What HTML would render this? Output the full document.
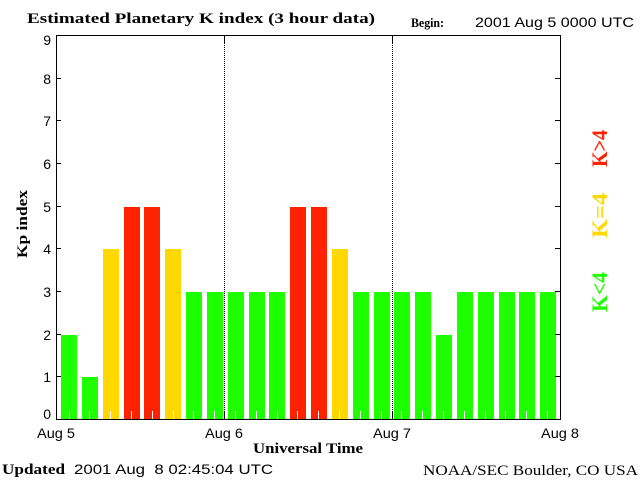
<!DOCTYPE html>
<html>
<head>
<meta charset="utf-8">
<style>
  html, body { margin: 0; padding: 0; background: #ffffff; }
  svg { display: block; }
  .serifb { font-family: "Liberation Serif", serif; font-weight: bold; }
  .serif { font-family: "Liberation Serif", serif; }
  .sans { font-family: "Liberation Sans", sans-serif; }
</style>
</head>
<body>
<svg xmlns="http://www.w3.org/2000/svg" width="640" height="480" viewBox="0 0 640 480">
  <rect x="0" y="0" width="640" height="480" fill="#ffffff"/>

  <!-- Title -->
  <text class="serifb" x="27" y="23" font-size="15" fill="#000" textLength="348" lengthAdjust="spacingAndGlyphs">Estimated Planetary K index (3 hour data)</text>
  <text class="serifb" x="411" y="27" font-size="13" fill="#000" textLength="33" lengthAdjust="spacingAndGlyphs">Begin:</text>
  <text class="sans" x="475" y="27" font-size="14" fill="#000" textLength="159" lengthAdjust="spacingAndGlyphs">2001 Aug 5 0000 UTC</text>

  <!-- Bars -->
  <g shape-rendering="crispEdges">
    <rect x="61"  y="335" width="16" height="84" fill="#1eff00"/>
    <rect x="82"  y="377" width="16" height="42" fill="#1eff00"/>
    <rect x="103" y="249" width="16" height="170" fill="#ffd800"/>
    <rect x="124" y="207" width="16" height="212" fill="#ff2200"/>
    <rect x="144" y="207" width="16" height="212" fill="#ff2200"/>
    <rect x="165" y="249" width="16" height="170" fill="#ffd800"/>
    <rect x="186" y="292" width="16" height="127" fill="#1eff00"/>
    <rect x="207" y="292" width="16" height="127" fill="#1eff00"/>
    <rect x="228" y="292" width="16" height="127" fill="#1eff00"/>
    <rect x="249" y="292" width="16" height="127" fill="#1eff00"/>
    <rect x="269" y="292" width="16" height="127" fill="#1eff00"/>
    <rect x="290" y="207" width="16" height="212" fill="#ff2200"/>
    <rect x="311" y="207" width="16" height="212" fill="#ff2200"/>
    <rect x="332" y="249" width="16" height="170" fill="#ffd800"/>
    <rect x="353" y="292" width="16" height="127" fill="#1eff00"/>
    <rect x="374" y="292" width="16" height="127" fill="#1eff00"/>
    <rect x="394" y="292" width="16" height="127" fill="#1eff00"/>
    <rect x="415" y="292" width="16" height="127" fill="#1eff00"/>
    <rect x="436" y="335" width="16" height="84" fill="#1eff00"/>
    <rect x="457" y="292" width="16" height="127" fill="#1eff00"/>
    <rect x="478" y="292" width="16" height="127" fill="#1eff00"/>
    <rect x="499" y="292" width="16" height="127" fill="#1eff00"/>
    <rect x="519" y="292" width="16" height="127" fill="#1eff00"/>
    <rect x="540" y="292" width="16" height="127" fill="#1eff00"/>
  </g>

  <!-- White minor ticks inside bars -->
  <g fill="#ffffff" shape-rendering="crispEdges">
    <rect x="69"  y="411" width="1" height="8"/>
    <rect x="89"  y="411" width="1" height="8"/>
    <rect x="110" y="411" width="1" height="8"/>
    <rect x="131" y="411" width="1" height="8"/>
    <rect x="152" y="411" width="1" height="8"/>
    <rect x="173" y="411" width="1" height="8"/>
    <rect x="193" y="411" width="1" height="8"/>
    <rect x="214" y="411" width="1" height="8"/>
    <rect x="235" y="411" width="1" height="8"/>
    <rect x="256" y="411" width="1" height="8"/>
    <rect x="277" y="411" width="1" height="8"/>
    <rect x="297" y="411" width="1" height="8"/>
    <rect x="318" y="411" width="1" height="8"/>
    <rect x="339" y="411" width="1" height="8"/>
    <rect x="360" y="411" width="1" height="8"/>
    <rect x="381" y="411" width="1" height="8"/>
    <rect x="401" y="411" width="1" height="8"/>
    <rect x="422" y="411" width="1" height="8"/>
    <rect x="443" y="411" width="1" height="8"/>
    <rect x="464" y="411" width="1" height="8"/>
    <rect x="485" y="411" width="1" height="8"/>
    <rect x="505" y="411" width="1" height="8"/>
    <rect x="526" y="411" width="1" height="8"/>
    <rect x="547" y="411" width="1" height="8"/>
  </g>

  <!-- Frame -->
  <g shape-rendering="crispEdges" fill="#000">
    <rect x="56" y="35" width="505" height="1"/>
    <rect x="56" y="419" width="505" height="1"/>
    <rect x="56" y="35" width="1" height="385"/>
    <rect x="560" y="35" width="1" height="385"/>

    <rect x="224" y="35" width="1" height="8"/>
    <rect x="224" y="411" width="1" height="8"/>
    <rect x="392" y="35" width="1" height="8"/>
    <rect x="392" y="411" width="1" height="8"/>

    <rect x="56" y="376" width="5" height="1"/>
    <rect x="56" y="334" width="5" height="1"/>
    <rect x="56" y="291" width="5" height="1"/>
    <rect x="56" y="248" width="5" height="1"/>
    <rect x="56" y="206" width="5" height="1"/>
    <rect x="56" y="163" width="5" height="1"/>
    <rect x="56" y="120" width="5" height="1"/>
    <rect x="56" y="78" width="5" height="1"/>
    <rect x="555" y="376" width="5" height="1"/>
    <rect x="555" y="334" width="5" height="1"/>
    <rect x="555" y="291" width="5" height="1"/>
    <rect x="555" y="248" width="5" height="1"/>
    <rect x="555" y="206" width="5" height="1"/>
    <rect x="555" y="163" width="5" height="1"/>
    <rect x="555" y="120" width="5" height="1"/>
    <rect x="555" y="78" width="5" height="1"/>
  </g>

  <!-- Dotted day dividers -->
  <line x1="224.5" y1="43" x2="224.5" y2="411" stroke="#000" stroke-width="1" stroke-dasharray="1,1" shape-rendering="crispEdges"/>
  <line x1="392.5" y1="43" x2="392.5" y2="411" stroke="#000" stroke-width="1" stroke-dasharray="1,1" shape-rendering="crispEdges"/>

  <!-- Y tick labels -->
  <g class="sans" font-size="14" fill="#000" text-anchor="end">
    <text x="51" y="45">9</text>
    <text x="51" y="84">8</text>
    <text x="51" y="126">7</text>
    <text x="51" y="169">6</text>
    <text x="51" y="212">5</text>
    <text x="51" y="254">4</text>
    <text x="51" y="297">3</text>
    <text x="51" y="340">2</text>
    <text x="51" y="382">1</text>
    <text x="51" y="419">0</text>
  </g>

  <!-- X tick labels -->
  <g class="sans" font-size="14" fill="#000" text-anchor="middle">
    <text x="56" y="438" textLength="38" lengthAdjust="spacingAndGlyphs">Aug 5</text>
    <text x="224" y="438" textLength="38" lengthAdjust="spacingAndGlyphs">Aug 6</text>
    <text x="392" y="438" textLength="38" lengthAdjust="spacingAndGlyphs">Aug 7</text>
    <text x="560" y="438" textLength="38" lengthAdjust="spacingAndGlyphs">Aug 8</text>
  </g>

  <!-- Axis titles -->
  <text class="serifb" x="253" y="453" font-size="15" fill="#000" textLength="110" lengthAdjust="spacingAndGlyphs">Universal Time</text>
  <text class="serifb" transform="translate(27,258) rotate(-90)" font-size="15" fill="#000" textLength="68" lengthAdjust="spacingAndGlyphs">Kp index</text>

  <!-- Legend -->
  <text class="serifb" transform="translate(607,167) rotate(-90)" font-size="22" fill="#ff2200" textLength="37" lengthAdjust="spacingAndGlyphs">K&gt;4</text>
  <text class="serifb" transform="translate(607,238) rotate(-90)" font-size="22" fill="#ffd800" textLength="45" lengthAdjust="spacingAndGlyphs">K=4</text>
  <text class="serifb" transform="translate(607,312) rotate(-90)" font-size="22" fill="#1eff00" textLength="40" lengthAdjust="spacingAndGlyphs">K&lt;4</text>

  <!-- Footer -->
  <text class="serifb" x="2" y="474" font-size="15" fill="#000" textLength="63" lengthAdjust="spacingAndGlyphs">Updated</text>
  <text class="sans" x="74" y="474" font-size="14" fill="#000" textLength="199" lengthAdjust="spacingAndGlyphs" xml:space="preserve" style="white-space:pre">2001 Aug  8 02:45:04 UTC</text>
  <text class="serif" x="423" y="475" font-size="15" fill="#000" textLength="215" lengthAdjust="spacingAndGlyphs">NOAA/SEC Boulder, CO USA</text>
</svg>
</body>
</html>
